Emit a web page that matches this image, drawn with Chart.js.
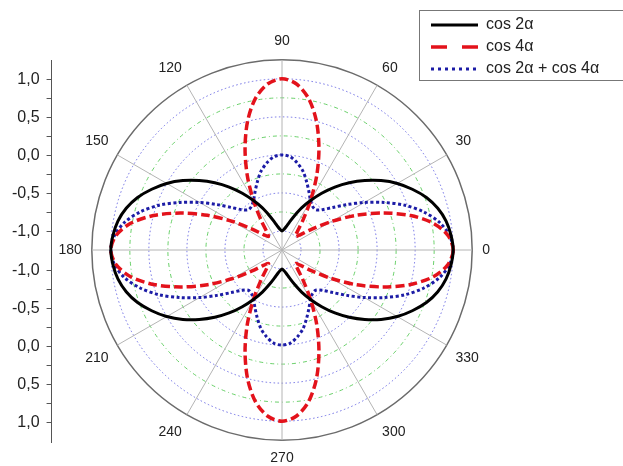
<!DOCTYPE html>
<html>
<head>
<meta charset="utf-8">
<script src="https://cdn.jsdelivr.net/npm/chart.js@4.4.0/dist/chart.umd.min.js"></script>
<style>
  body { margin: 0; background: #fff; overflow: hidden; }
  #wrap { position: relative; width: 623px; height: 466px; overflow: hidden; }
  canvas { position: absolute; left: 0; top: 0; }
  #legendBox { position: absolute; left: 419px; top: 10px; width: 220px; height: 69px; border: 1px solid #777; background: #fff; }
</style>
</head>
<body>
<div id="wrap">
  <canvas id="polar" width="623" height="470"></canvas>
  <canvas id="axis" width="200" height="470"></canvas>
  <div id="legendBox"><canvas id="legend" width="220" height="160"></canvas></div>
</div>
<script>
// polar angle of every sample (degrees, counter-clockwise from 0)
const angles = [0, 5, 10, 15, 20, 25, 30, 35, 40, 45, 50, 55, 60, 65, 70, 75, 80, 85,
  90, 95, 100, 105, 110, 115, 120, 125, 130, 135, 140, 145, 150, 155, 160, 165, 170, 175,
  180, 185, 190, 195, 200, 205, 210, 215, 220, 225, 230, 235, 240, 245, 250, 255, 260, 265,
  270, 275, 280, 285, 290, 295, 300, 305, 310, 315, 320, 325, 330, 335, 340, 345, 350, 355];

const cos2a = [1.00, 0.98, 0.94, 0.87, 0.77, 0.64, 0.50, 0.34, 0.17, 0.00, -0.17, -0.34, -0.50, -0.64, -0.77, -0.87, -0.94, -0.98,
  -1.00, -0.98, -0.94, -0.87, -0.77, -0.64, -0.50, -0.34, -0.17, 0.00, 0.17, 0.34, 0.50, 0.64, 0.77, 0.87, 0.94, 0.98,
  1.00, 0.98, 0.94, 0.87, 0.77, 0.64, 0.50, 0.34, 0.17, 0.00, -0.17, -0.34, -0.50, -0.64, -0.77, -0.87, -0.94, -0.98,
  -1.00, -0.98, -0.94, -0.87, -0.77, -0.64, -0.50, -0.34, -0.17, 0.00, 0.17, 0.34, 0.50, 0.64, 0.77, 0.87, 0.94, 0.98];

const cos4a = [1.00, 0.94, 0.77, 0.50, 0.17, -0.17, -0.50, -0.77, -0.94, -1.00, -0.94, -0.77, -0.50, -0.17, 0.17, 0.50, 0.77, 0.94,
  1.00, 0.94, 0.77, 0.50, 0.17, -0.17, -0.50, -0.77, -0.94, -1.00, -0.94, -0.77, -0.50, -0.17, 0.17, 0.50, 0.77, 0.94,
  1.00, 0.94, 0.77, 0.50, 0.17, -0.17, -0.50, -0.77, -0.94, -1.00, -0.94, -0.77, -0.50, -0.17, 0.17, 0.50, 0.77, 0.94,
  1.00, 0.94, 0.77, 0.50, 0.17, -0.17, -0.50, -0.77, -0.94, -1.00, -0.94, -0.77, -0.50, -0.17, 0.17, 0.50, 0.77, 0.94];

// the blue curve as it sits on the radial scale
const cosSum = [1.00, 0.96, 0.85, 0.68, 0.47, 0.23, 0.00, -0.21, -0.38, -0.50, -0.56, -0.55, -0.50, -0.41, -0.30, -0.18, -0.09, -0.02,
  0.00, -0.02, -0.09, -0.18, -0.30, -0.41, -0.50, -0.55, -0.56, -0.50, -0.38, -0.21, 0.00, 0.23, 0.47, 0.68, 0.85, 0.96,
  1.00, 0.96, 0.85, 0.68, 0.47, 0.23, 0.00, -0.21, -0.38, -0.50, -0.56, -0.55, -0.50, -0.41, -0.30, -0.18, -0.09, -0.02,
  0.00, -0.02, -0.09, -0.18, -0.30, -0.41, -0.50, -0.55, -0.56, -0.50, -0.38, -0.21, 0.00, 0.23, 0.47, 0.68, 0.85, 0.96];

const seriesNames = ['cos 2α', 'cos 4α', 'cos 2α + cos 4α'];
const angleTicks = [0, 30, 60, 90, 120, 150, 180, 210, 240, 270, 300, 330];
const radialTicks = [-1.0, -0.5, 0.0, 0.5, 1.0];

const FONT = "'Liberation Sans', Arial, sans-serif";
const styles = [
  { color: '#000000', width: 3, dash: [], legendDash: [] },
  { color: '#e3121b', width: 3.5, dash: [9, 4], legendDash: [16, 15] },
  { color: '#1c1ca6', width: 3, dash: [3, 2.5], legendDash: [3, 4] }
];
const values = [cos2a, cos4a, cosSum];

// radar runs clockwise from the start angle, so walk the samples backwards
const order = angles.map((a, i) => (angles.length - i) % angles.length);
const polarLabels = order.map(i => angles[i]);

function ring(v) {
  if (Math.abs(v - 1.25) < 1e-6) return 'outer';
  return radialTicks.some(t => Math.abs(t - v) < 1e-6) ? 'major' : 'minor';
}
const ringColor = { outer: '#6b6b6b', major: 'rgba(90,90,225,0.85)', minor: 'rgba(80,200,80,0.85)' };
const ringDash = { outer: [], major: [1.5, 2.5], minor: [4, 3, 1, 3] };

new Chart(document.getElementById('polar'), {
  type: 'radar',
  data: {
    labels: polarLabels,
    datasets: values.map((v, k) => ({
      label: seriesNames[k],
      data: order.map(i => v[i]),
      borderColor: styles[k].color,
      borderWidth: styles[k].width,
      borderDash: styles[k].dash,
      fill: false,
      pointRadius: 0,
      tension: 0.3
    }))
  },
  options: {
    responsive: false,
    animation: false,
    layout: { padding: { top: 34, bottom: 2, left: 20, right: 79 } },
    plugins: { legend: { display: false }, tooltip: { enabled: false } },
    scales: {
      r: {
        min: -1.25,
        max: 1.25,
        startAngle: 90,
        ticks: { display: false, stepSize: 0.25 },
        grid: {
          circular: true,
          color: ctx => ringColor[ring(ctx.tick.value)],
          lineWidth: ctx => ring(ctx.tick.value) === 'outer' ? 1.5 : 1
        },
        border: { dash: ctx => ringDash[ring(ctx.tick.value)] },
        angleLines: {
          color: '#b4b4b4',
          lineWidth: ctx => angleTicks.includes(polarLabels[ctx.index]) ? 1 : 0
        },
        pointLabels: {
          font: { family: FONT, size: 14 },
          color: '#222',
          padding: 10,
          callback: l => angleTicks.includes(Number(l)) ? String(l) : ''
        }
      }
    }
  }
});

// left radial axis, mirrored about the centre like the original
new Chart(document.getElementById('axis'), {
  type: 'scatter',
  data: { datasets: [] },
  options: {
    responsive: false,
    animation: false,
    layout: { padding: { top: 60, bottom: 28, left: 5, right: 0 } },
    plugins: { legend: { display: false }, tooltip: { enabled: false } },
    scales: {
      x: { display: false },
      y: {
        min: -2.5,
        max: 2.5,
        ticks: {
          stepSize: 0.25,
          autoSkip: false,
          padding: 7,
          color: '#222',
          font: { family: FONT, size: 16 },
          callback: v => {
            const r = Math.round((Math.abs(v) - 1.25) * 100) / 100;
            return radialTicks.includes(r) ? r.toFixed(1).replace('.', ',') : '';
          }
        },
        grid: {
          drawOnChartArea: false,
          tickLength: 5,
          tickColor: ctx => Math.abs(Math.abs(Math.abs(ctx.tick.value) - 1.25) - 1.25) < 1e-6 ? 'rgba(0,0,0,0)' : '#555'
        },
        border: { color: '#555', width: 1 }
      }
    }
  }
});

new Chart(document.getElementById('legend'), {
  type: 'line',
  data: { datasets: seriesNames.map(name => ({ label: name, data: [] })) },
  options: {
    responsive: false,
    animation: false,
    layout: { padding: { left: 5, top: 0 } },
    scales: { x: { display: false }, y: { display: false } },
    plugins: {
      tooltip: { enabled: false },
      legend: {
        position: 'top',
        align: 'start',
        labels: {
          usePointStyle: true,
          pointStyleWidth: 47,
          padding: 6,
          color: '#222',
          font: { family: FONT, size: 16 },
          generateLabels: () => seriesNames.map((name, k) => ({
            text: name,
            fontColor: '#222',
            strokeStyle: styles[k].color,
            fillStyle: styles[k].color,
            lineWidth: styles[k].width,
            lineDash: styles[k].legendDash,
            pointStyle: 'line',
            hidden: false,
            datasetIndex: k
          }))
        }
      }
    }
  }
});
</script>
</body>
</html>
